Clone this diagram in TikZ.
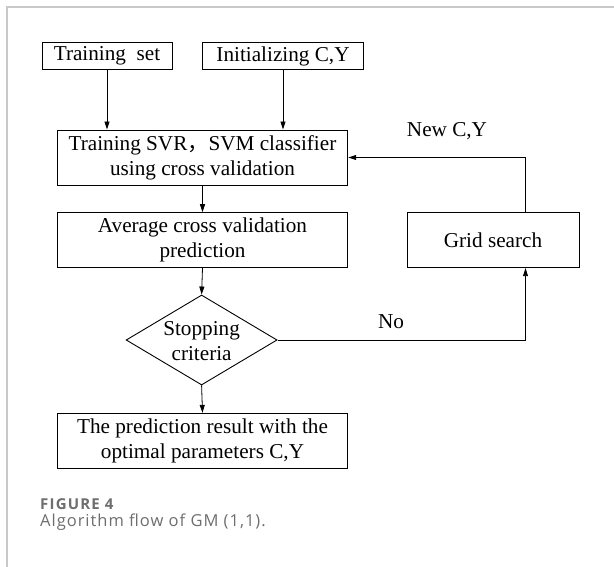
\documentclass[tikz,border=0pt]{standalone}
\usepackage{fontspec}
\setmainfont{Liberation Serif}
\newfontfamily\capfont{Open Sans}
\newfontfamily\capfontA[LetterSpace=6]{Open Sans}
\newfontfamily\capfontB[LetterSpace=8]{Open Sans}
\newfontfamily\cjk{Noto Sans CJK SC}
\usetikzlibrary{arrows.meta,shapes.geometric}
\definecolor{framegray}{RGB}{200,200,200}
\definecolor{capgray}{RGB}{110,110,110}
\tikzset{
  box/.style={draw, line width=0.9pt, inner sep=0pt, align=center,
    font=\fontsize{21.2}{25}\selectfont},
  lbl/.style={inner sep=0pt, font=\fontsize{21.2}{25}\selectfont},
  conn/.style={line width=0.8pt, -{Triangle[length=8pt,width=5pt]}},
}
\begin{document}
\begin{tikzpicture}[x=1pt,y=-1pt]
\useasboundingbox (0,0) rectangle (614,567);
\fill[white] (0,0) rectangle (614,567);
\draw[framegray, line width=1.3pt] (7,567) -- (7,7) -- (614,7);

\node[box, minimum width=130pt, minimum height=26.5pt] (ts) at (107,56) {Training\ \ set};
\node[box, minimum width=160.6pt, minimum height=26.5pt] (init) at (283,56) {Initializing C,Y};
\node[box, minimum width=290.5pt, minimum height=55pt] (train) at (202.5,157.5)
  {Training SVR{\cjk ，}SVM classifier\\using cross validation};
\node[box, minimum width=290.5pt, minimum height=55pt] (avg) at (202.5,240.2)
  {Average cross validation\\prediction};
\node[box, minimum width=172pt, minimum height=55pt] (grid) at (493,240.2) {Grid search};
\node[diamond, draw, line width=0.9pt, inner sep=0pt, aspect=1.678,
  minimum width=151pt, minimum height=90pt] (dia) at (201.6,340) {};
\node[lbl, align=center] (diat) at (201.6,341) {Stopping\\criteria};
\node[box, minimum width=290.5pt, minimum height=55pt] (res) at (202.5,440.8)
  {The prediction result with the\\optimal parameters C,Y};

\coordinate (gx) at (525.5,0);
\node[lbl, anchor=base] (newcy) at (447,136.7) {New C,Y};
\node[lbl, anchor=base] (no) at (391,328) {No};

\draw[conn] (ts.south) -- (ts.south |- train.north);
\draw[conn] (init.south) -- (init.south |- train.north);
\draw[conn] (train.south) -- (avg.north);
\draw[conn] (avg.south) -- (dia.north);
\draw[conn] (dia.south) -- (res.north);
\draw[conn] (dia.east) -- (gx |- dia.east) -- (gx |- grid.south);
\draw[conn] (gx |- grid.north) -- (gx |- train.east) -- (train.east);

\node[anchor=base west, inner sep=0pt, text=capgray,
  font=\capfontB\bfseries\fontsize{15}{18}\selectfont] (fig) at (40,509.3) {FIGURE 4};
\node[anchor=base west, inner sep=0pt, text=capgray,
  font=\capfontA\fontsize{16.5}{20}\selectfont] (cap) at (40,526.7) {Algorithm flow of GM (1,1).};
\end{tikzpicture}
\end{document}
